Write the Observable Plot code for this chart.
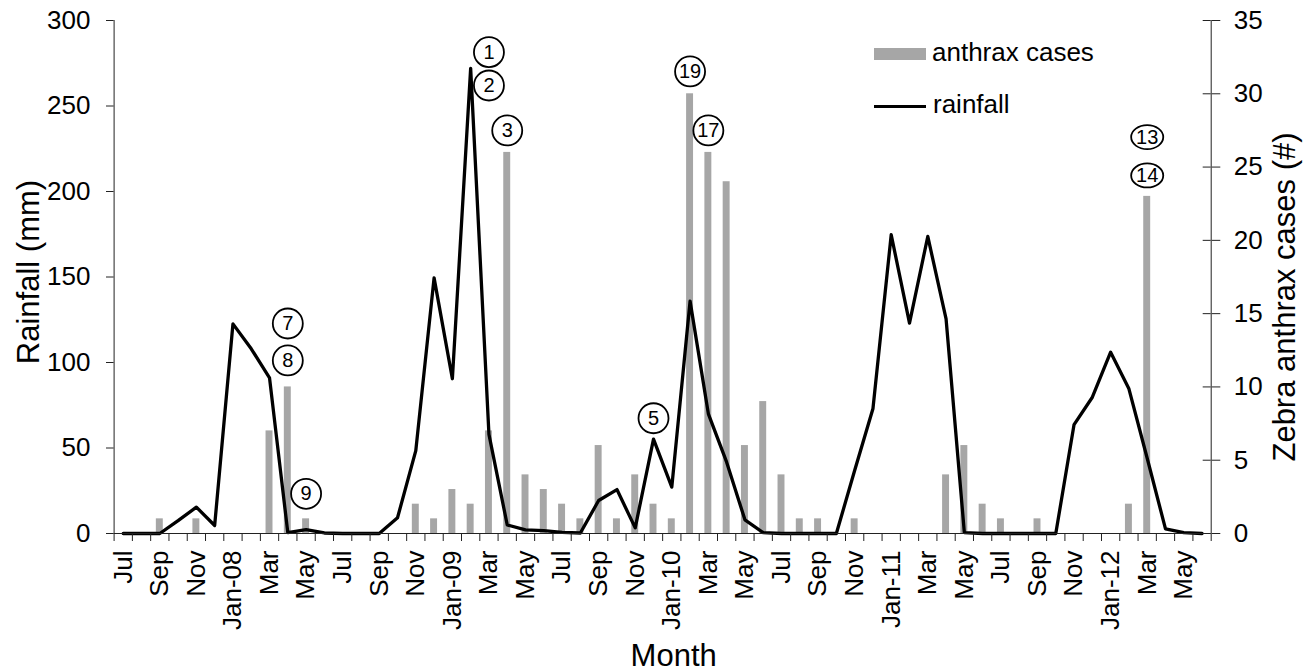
<!DOCTYPE html>
<html><head><meta charset="utf-8">
<script src="https://cdn.jsdelivr.net/npm/d3@7"></script>
<script src="https://cdn.jsdelivr.net/npm/@observablehq/plot@0.6"></script>
<style>
html,body{margin:0;padding:0;background:#fff;}
#wrap{position:relative;width:1315px;height:671px;font-family:"Liberation Sans",Arial,sans-serif;color:#000;}
.leg{position:absolute;font-size:26px;line-height:1;white-space:nowrap;}
</style></head>
<body><div id="wrap"></div>
<script>
// ---- data ----
const months = [
  "Jul-07","Aug-07","Sep-07","Oct-07","Nov-07","Dec-07",
  "Jan-08","Feb-08","Mar-08","Apr-08","May-08","Jun-08","Jul-08","Aug-08","Sep-08","Oct-08","Nov-08","Dec-08",
  "Jan-09","Feb-09","Mar-09","Apr-09","May-09","Jun-09","Jul-09","Aug-09","Sep-09","Oct-09","Nov-09","Dec-09",
  "Jan-10","Feb-10","Mar-10","Apr-10","May-10","Jun-10","Jul-10","Aug-10","Sep-10","Oct-10","Nov-10","Dec-10",
  "Jan-11","Feb-11","Mar-11","Apr-11","May-11","Jun-11","Jul-11","Aug-11","Sep-11","Oct-11","Nov-11","Dec-11",
  "Jan-12","Feb-12","Mar-12","Apr-12","May-12","Jun-12"
];
const rainfall = [
  0, 0, 0, 7.5, 15.4, 4.7,
  122.6, 108, 91, 0.5, 2.3, 0.3, 0, 0, 0, 9.2, 48.5, 149.5,
  90.5, 272, 58, 5, 2.1, 1.7, 0.6, 0.3, 19.3, 25.7, 3.3, 55.2,
  27.1, 135.9, 70, 41.7, 8, 0.5, 0, 0, 0, 0, 36.8, 72.9,
  174.7, 123, 173.7, 125.5, 0.5, 0, 0, 0, 0, 0, 63.7, 79.7,
  106, 84.6, 44, 2.7, 0.5, 0
];
const cases = [
  0, 0, 1, 0, 1, 0,
  0, 0, 7, 10, 1, 0, 0, 0, 0, 0, 2, 1,
  3, 2, 7, 26, 4, 3, 2, 1, 6, 1, 4, 2,
  1, 30, 26, 24, 6, 9, 4, 1, 1, 0, 1, 0,
  0, 0, 0, 4, 6, 2, 1, 0, 1, 0, 0, 0,
  0, 2, 23, 0, 0, 0
];
const xTickLabels = ["Jul","Sep","Nov","Jan-08","Mar","May","Jul","Sep","Nov","Jan-09","Mar","May",
  "Jul","Sep","Nov","Jan-10","Mar","May","Jul","Sep","Nov","Jan-11","Mar","May","Jul","Sep","Nov","Jan-12","Mar","May"];
const rainTicks = [0, 50, 100, 150, 200, 250, 300];
const caseTicks = [0, 5, 10, 15, 20, 25, 30, 35];
// circled case-number annotations (month, level on the rainfall axis)
const annoLabels = ["1","2","3","7","8","9","5","19","17","13","14"];
const annoMonths = ["Mar-09","Mar-09","Apr-09","Apr-08","Apr-08","May-08","Dec-09","Feb-10","Mar-10","Mar-12","Mar-12"];
const annoLevels = [281.5, 262, 235.7, 122.8, 101.2, 23.2, 67.4, 270.2, 235.7, 231.8, 209.4];
const annoShapes = ["circle","circle","circle","circle","circle","circle","circle","circle","circle","ellipse","ellipse"];

// ---- build ----
const rainMax = 300, caseMax = 35;
const k = rainMax / caseMax; // links the right (cases) axis to the left (rainfall) axis
const rows = months.map((m, i) => ({i, month: m, rain: rainfall[i], cases: cases[i]}));
const xLabelRows = xTickLabels.map((t, j) => ({i: months.indexOf(months[2 * j]), t}));
const annoRows = annoLabels.map((t, j) => ({t, i: months.indexOf(annoMonths[j]), v: annoLevels[j], shape: annoShapes[j]}));

const ellipseSymbol = {
  draw(ctx, size) {
    const r = Math.sqrt(size / Math.PI);
    const rx = r * 1.07, ry = r * 0.8, c = 0.5523;
    ctx.moveTo(rx, 0);
    ctx.bezierCurveTo(rx, c * ry, c * rx, ry, 0, ry);
    ctx.bezierCurveTo(-c * rx, ry, -rx, c * ry, -rx, 0);
    ctx.bezierCurveTo(-rx, -c * ry, -c * rx, -ry, 0, -ry);
    ctx.bezierCurveTo(c * rx, -ry, rx, -c * ry, rx, 0);
    ctx.closePath();
  }
};

const axisColor = "#222";
const font = '"Liberation Sans", Arial, sans-serif';

const chart = Plot.plot({
  width: 1315, height: 671,
  marginLeft: 113.6, marginRight: 104.3, marginTop: 20, marginBottom: 138,
  style: {fontFamily: font, color: "#000", background: "#fff", overflow: "visible"},
  x: {domain: [0, months.length], axis: null},
  y: {domain: [0, rainMax], axis: null},
  marks: [
    Plot.rectY(rows, {x1: d => d.i + 0.31, x2: d => d.i + 0.69, y1: 0, y2: d => d.cases * k, fill: "#a6a6a6"}),
    Plot.line(rows, {x: d => d.i + 0.5, y: "rain", stroke: "#000", strokeWidth: 3.3, strokeLinejoin: "round"}),
    // axis lines
    Plot.ruleY([0], {stroke: axisColor}),
    Plot.ruleX([0, months.length], {stroke: axisColor}),
    // x ticks between months
    Plot.ruleX(d3.range(months.length + 1), {x: d => d, y1: 0, y2: 0, insetBottom: -8, stroke: axisColor}),
    // left axis (rainfall)
    Plot.axisY({ticks: rainTicks, tickSize: 7.6, tickPadding: 16, fontSize: 26, label: null, stroke: axisColor}),
    // right axis (cases)
    Plot.axisY({anchor: "right", ticks: caseTicks.map(c => c * k), tickFormat: v => String(Math.round(v / k)),
      tickSize: 8.6, tickPadding: 14, fontSize: 26, label: null, stroke: axisColor}),
    Plot.ruleY(caseTicks, {y: c => c * k, x1: months.length, x2: months.length, insetLeft: -8, stroke: axisColor}),
    // x tick labels
    Plot.text(xLabelRows, {x: d => d.i + 0.5, text: "t", frameAnchor: "bottom", rotate: -90,
      textAnchor: "end", lineAnchor: "middle", dy: 17, fontSize: 26}),
    // axis titles
    Plot.text(["Rainfall (mm)"], {text: d => d, frameAnchor: "left", rotate: -90, dx: -85, dy: -5,
      fontSize: 31, textAnchor: "middle", lineAnchor: "middle"}),
    Plot.text(["Zebra anthrax cases (#)"], {text: d => d, frameAnchor: "right", rotate: -90, dx: 74, dy: 20,
      fontSize: 31, textAnchor: "middle", lineAnchor: "middle"}),
    Plot.text(["Month"], {text: d => d, frameAnchor: "bottom", dx: 11, dy: 123,
      fontSize: 31, textAnchor: "middle", lineAnchor: "middle"}),
    // annotations
    Plot.dot(annoRows.filter(d => d.shape === "circle"), {x: d => d.i + 0.5, y: "v", r: 15, stroke: "#000", strokeWidth: 1.8, fill: "none"}),
    Plot.dot(annoRows.filter(d => d.shape === "ellipse"), {x: d => d.i + 0.5, y: "v", r: 15, symbol: ellipseSymbol, stroke: "#000", strokeWidth: 1.8, fill: "none"}),
    Plot.text(annoRows, {x: d => d.i + 0.5, y: "v", text: "t", fontSize: 20, lineAnchor: "middle", textAnchor: "middle"})
  ]
});
const wrap = document.getElementById("wrap");
wrap.appendChild(chart);

// legend (inside plot area, top right)
const legend = [
  {label: "anthrax cases", kind: "bar"},
  {label: "rainfall", kind: "line"}
];
legend.forEach((d, j) => {
  const sw = document.createElement("div");
  sw.style.position = "absolute";
  sw.style.left = "874px";
  sw.style.width = "52px";
  if (d.kind === "bar") { sw.style.top = "48px"; sw.style.height = "12px"; sw.style.background = "#a6a6a6"; }
  else { sw.style.top = "104.5px"; sw.style.height = "3px"; sw.style.background = "#000"; }
  wrap.appendChild(sw);
  const tx = document.createElement("div");
  tx.className = "leg";
  tx.textContent = d.label;
  tx.style.left = (d.kind === "bar" ? 932 : 933) + "px";
  tx.style.top = (d.kind === "bar" ? 39 : 91) + "px";
  wrap.appendChild(tx);
});
</script>
</body></html>
